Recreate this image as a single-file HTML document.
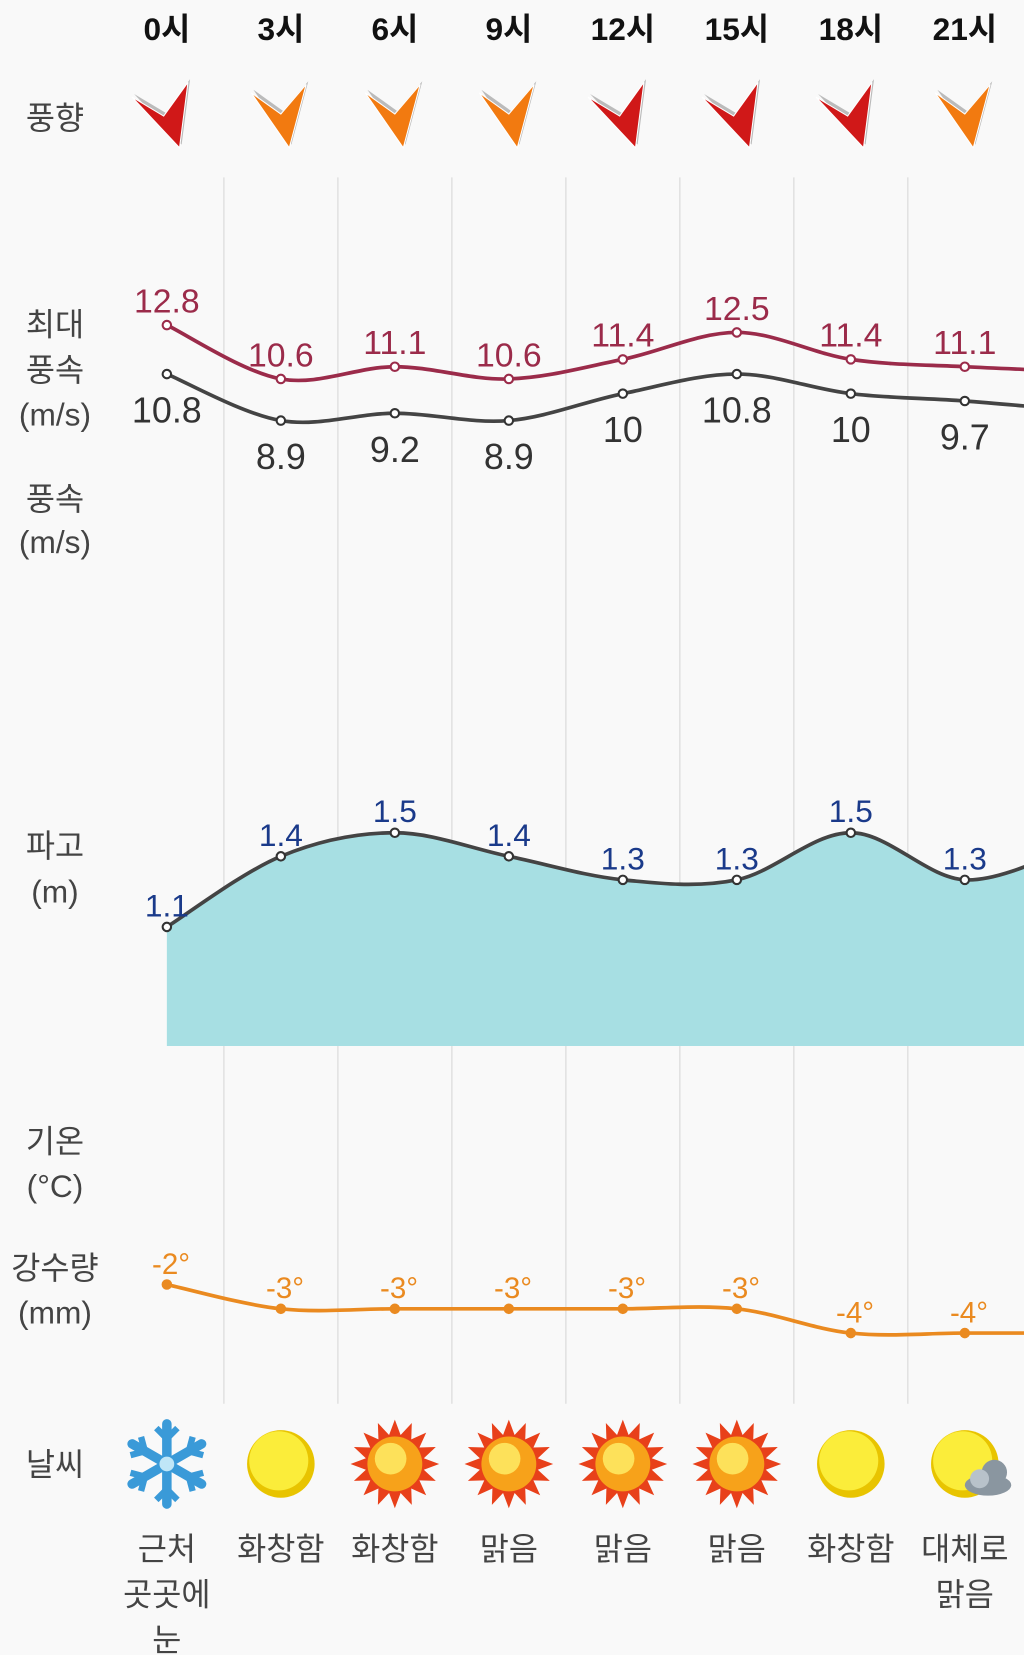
<!DOCTYPE html>
<html><head><meta charset="utf-8"><style>
html,body{margin:0;padding:0;background:#f9f9f9;}
svg{display:block;font-family:"Liberation Sans","Noto Sans CJK KR",sans-serif;}
</style></head><body>
<svg id="c" width="1024" height="1655" viewBox="0 0 970 1568" xmlns="http://www.w3.org/2000/svg">
<rect width="970" height="1568" fill="#f9f9f9"/>
<g id="grid"></g><g id="left"></g><g id="marks"></g>
</svg>
<script>
const hours=["0시","3시","6시","9시","12시","15시","18시","21시"];
const windDir=["red","orange","orange","orange","red","red","red","orange"];
const maxWind=[12.8,10.6,11.1,10.6,11.4,12.5,11.4,11.1,10.9];
const wind=[10.8,8.9,9.2,8.9,10,10.8,10,9.7,9.3];
const wave=[1.1,1.4,1.5,1.4,1.3,1.3,1.5,1.3,1.45];
const temp=[-2,-3,-3,-3,-3,-3,-4,-4,-4];
const weather=["snow","sun","sunny","sunny","sunny","sunny","sun","suncloud"];
const weatherText=[["근처","곳곳에","눈"],["화창함"],["화창함"],["맑음"],["맑음"],["맑음"],["화창함"],["대체로","맑음"]];
const NS="http://www.w3.org/2000/svg";
const X=i=>158+i*108;
const yWind=v=>308+(12.8-v)*23.2;
const yWave=v=>789+(1.5-v)*223;
const yTemp=v=>1217+(-2-v)*23;
function el(t,a,p){const e=document.createElementNS(NS,t);for(const k in a)e.setAttribute(k,a[k]);(p||document.getElementById('marks')).appendChild(e);return e;}
function txt(s,x,y,size,fill,p,w){const t=el('text',{x:x,y:y,'font-size':size,fill:fill,'text-anchor':'middle','font-weight':w||'normal'},p);t.textContent=s;return t;}
function path(pts){let d="M"+pts[0][0]+","+pts[0][1];for(let i=0;i<pts.length-1;i++){const p0=pts[i-1]||pts[i],p1=pts[i],p2=pts[i+1],p3=pts[i+2]||p2;d+=" C"+(p1[0]+(p2[0]-p0[0])/6)+","+(p1[1]+(p2[1]-p0[1])/6)+" "+(p2[0]-(p3[0]-p1[0])/6)+","+(p2[1]-(p3[1]-p1[1])/6)+" "+p2[0]+","+p2[1];}return d;}
const g=document.getElementById('grid');
for(let i=0;i<7;i++){const l=el('line',{x1:212+i*108,x2:212+i*108,y1:168,y2:1330,stroke:'#e2e2e2','stroke-width':1.5},g);}
const L=document.getElementById('left');
[["풍향",122],["최대",318],["풍속",361],["(m/s)",403],["풍속",483],["(m/s)",524],["파고",812],["(m)",855],["기온",1092],["(°C)",1134],["강수량",1212],["(mm)",1254],["날씨",1398]].forEach(a=>{const t=txt(a[0],52,a[1],30,'#444',L);});
hours.forEach((h,i)=>{const t=txt(h,X(i),38,30,'#111',null,'bold');});
windDir.forEach((c,i)=>{const x=X(i);let p=c=="red"?[[-33,92],[-3,110],[20,78],[12,140]]:[[-28,88],[0,108],[24,80],[8,140]];
const sh=el('polygon',{points:p.map(q=>(x+q[0]+2)+","+(q[1]-3)).join(" "),fill:'#bbb'});
const a=el('polygon',{points:p.map(q=>(x+q[0])+","+q[1]).join(" "),fill:c=="red"?'#d01818':'#f27a10',stroke:'#fff','stroke-width':1});});
const wp=wave.map((v,i)=>[X(i),yWave(v)]);
const ar=el('path',{d:path(wp)+" L"+X(8)+",991 L158,991 Z",fill:'#a7dfe3'});
const wl=el('path',{d:path(wp),fill:'none',stroke:'#444','stroke-width':3.5});
const mp=maxWind.map((v,i)=>[X(i),yWind(v)]);
const ml=el('path',{d:path(mp),fill:'none',stroke:'#9b2b4a','stroke-width':3.5});
const sp=wind.map((v,i)=>[X(i),yWind(v)]);
const sl=el('path',{d:path(sp),fill:'none',stroke:'#444','stroke-width':3.5});
const tp=temp.map((v,i)=>[X(i),yTemp(v)]);
const tl=el('path',{d:path(tp),fill:'none',stroke:'#ea8a20','stroke-width':3.5});
for(let i=0;i<8;i++){const x=X(i);
let d=el('circle',{cx:x,cy:yWind(maxWind[i]),r:4,fill:'#fff',stroke:'#9b2b4a','stroke-width':2});
let t=txt(String(maxWind[i]),x,yWind(maxWind[i])-12,32,'#9b2b4a');
d=el('circle',{cx:x,cy:yWind(wind[i]),r:4,fill:'#fff',stroke:'#333','stroke-width':2});
t=txt(String(wind[i]),x,yWind(wind[i])+46,34,'#333');
d=el('circle',{cx:x,cy:yWave(wave[i]),r:4,fill:'#fff',stroke:'#333','stroke-width':2});
t=txt(String(wave[i]),x,yWave(wave[i])-10,30,'#1a3a8a');
d=el('circle',{cx:x,cy:yTemp(temp[i]),r:5,fill:'#ea8a20'});
t=txt(temp[i]+"°",x+4,yTemp(temp[i])-10,28,'#ea8a20');
const cy=1387,w=weather[i];let ic=el('g',{});
if(w=="snow"){for(let k=0;k<3;k++){el('line',{x1:x,y1:cy-38,x2:x,y2:cy+38,stroke:'#3a9ad8','stroke-width':9,'stroke-linecap':'round',transform:`rotate(${k*60} ${x} ${cy})`},ic);}
for(let k=0;k<6;k++){el('polyline',{points:`${x-10},${cy-34} ${x},${cy-24} ${x+10},${cy-34}`,fill:'none',stroke:'#3a9ad8','stroke-width':6,transform:`rotate(${k*60} ${x} ${cy})`},ic);}
el('circle',{cx:x,cy:cy,r:7,fill:'#bfe6f7'},ic);}
else{if(w=="sunny"){let pts="";for(let k=0;k<32;k++){const r=k%2?28:42,an=k*Math.PI/16;pts+=(x+r*Math.cos(an))+","+(cy+r*Math.sin(an))+" ";}el('polygon',{points:pts,fill:'#e8401a'},ic);el('circle',{cx:x,cy:cy,r:26,fill:'#f7a21a'},ic);el('circle',{cx:x-4,cy:cy-5,r:15,fill:'#fde15a'},ic);}
else{el('circle',{cx:x,cy:cy,r:32,fill:'#e8c400'},ic);el('circle',{cx:x-2,cy:cy-3,r:28,fill:'#fbed3a'},ic);}
if(w=="suncloud"){el('ellipse',{cx:x+22,cy:cy+20,rx:22,ry:10,fill:'#8a96a0'},ic);el('circle',{cx:x+28,cy:cy+8,r:12,fill:'#8a96a0'},ic);el('circle',{cx:x+14,cy:cy+14,r:9,fill:'#b8c2ca'},ic);}}
weatherText[i].forEach((s,k)=>{const tt=txt(s,x,1478+k*43,30,'#444');});
}
</script>
</body></html>
